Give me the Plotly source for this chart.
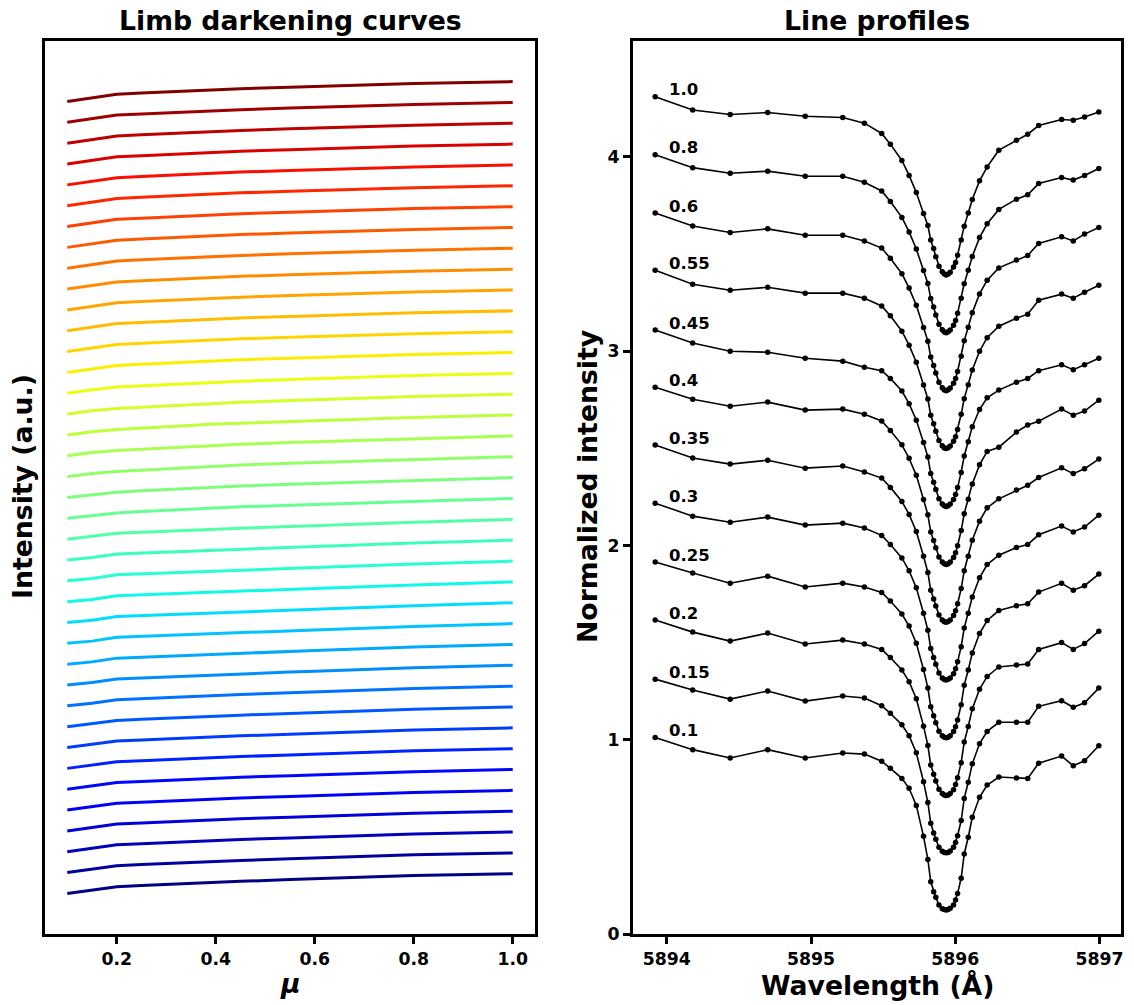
import plotly.graph_objects as go

# ---------------- data ----------------
# viewing angles (mu = cos theta)
mu = [0.1, 0.15, 0.2, 0.25, 0.3, 0.35, 0.4, 0.45, 0.55, 0.6, 0.8, 1.0]
mu_labels = ["0.1", "0.15", "0.2", "0.25", "0.3", "0.35", "0.4", "0.45", "0.55", "0.6", "0.8", "1.0"]

# limb darkening curves, one row per wavelength (bottom to top), intensity in a.u.
ld_intensity = [
    [0.522, 0.602, 0.682, 0.710, 0.737, 0.765, 0.792, 0.811, 0.853, 0.873, 0.952, 0.993],
    [0.522, 0.604, 0.686, 0.713, 0.740, 0.767, 0.794, 0.812, 0.852, 0.871, 0.948, 0.994],
    [0.522, 0.605, 0.688, 0.715, 0.742, 0.769, 0.796, 0.814, 0.853, 0.872, 0.947, 0.995],
    [0.522, 0.604, 0.686, 0.713, 0.740, 0.767, 0.794, 0.812, 0.851, 0.870, 0.945, 0.995],
    [0.522, 0.603, 0.684, 0.711, 0.738, 0.765, 0.792, 0.810, 0.849, 0.868, 0.944, 0.995],
    [0.522, 0.602, 0.682, 0.709, 0.736, 0.763, 0.790, 0.808, 0.847, 0.866, 0.943, 0.995],
    [0.522, 0.600, 0.679, 0.706, 0.733, 0.760, 0.787, 0.805, 0.845, 0.864, 0.942, 0.995],
    [0.522, 0.596, 0.676, 0.703, 0.730, 0.757, 0.784, 0.802, 0.842, 0.862, 0.941, 0.995],
    [0.522, 0.590, 0.673, 0.700, 0.727, 0.754, 0.780, 0.799, 0.840, 0.860, 0.940, 0.995],
    [0.522, 0.584, 0.670, 0.697, 0.723, 0.749, 0.775, 0.795, 0.837, 0.857, 0.938, 0.995],
    [0.522, 0.580, 0.668, 0.694, 0.719, 0.744, 0.769, 0.790, 0.833, 0.853, 0.935, 0.995],
    [0.522, 0.577, 0.667, 0.691, 0.715, 0.740, 0.764, 0.785, 0.828, 0.849, 0.932, 0.996],
    [0.522, 0.575, 0.666, 0.690, 0.714, 0.738, 0.761, 0.781, 0.823, 0.844, 0.928, 0.996],
    [0.522, 0.575, 0.666, 0.689, 0.713, 0.737, 0.759, 0.778, 0.819, 0.840, 0.924, 0.996],
    [0.522, 0.575, 0.666, 0.689, 0.713, 0.737, 0.759, 0.778, 0.819, 0.840, 0.924, 0.996],
    [0.522, 0.577, 0.666, 0.689, 0.713, 0.737, 0.759, 0.778, 0.819, 0.840, 0.924, 0.996],
    [0.522, 0.580, 0.666, 0.690, 0.714, 0.738, 0.761, 0.780, 0.822, 0.843, 0.927, 0.997],
    [0.522, 0.585, 0.662, 0.690, 0.716, 0.742, 0.766, 0.785, 0.826, 0.847, 0.930, 0.997],
    [0.522, 0.590, 0.650, 0.684, 0.716, 0.748, 0.779, 0.797, 0.834, 0.852, 0.932, 0.998],
    [0.522, 0.594, 0.648, 0.682, 0.714, 0.747, 0.780, 0.799, 0.840, 0.859, 0.937, 0.998],
    [0.522, 0.596, 0.646, 0.680, 0.713, 0.746, 0.780, 0.799, 0.842, 0.861, 0.940, 1.000],
    [0.522, 0.598, 0.646, 0.680, 0.713, 0.746, 0.780, 0.799, 0.842, 0.861, 0.940, 1.000],
    [0.522, 0.600, 0.650, 0.684, 0.717, 0.750, 0.783, 0.802, 0.845, 0.864, 0.942, 1.000],
    [0.522, 0.604, 0.658, 0.690, 0.722, 0.754, 0.787, 0.806, 0.848, 0.867, 0.944, 1.000],
    [0.522, 0.606, 0.670, 0.700, 0.730, 0.761, 0.792, 0.811, 0.852, 0.872, 0.946, 1.000],
    [0.522, 0.607, 0.690, 0.719, 0.748, 0.777, 0.806, 0.825, 0.864, 0.883, 0.951, 1.000],
    [0.522, 0.608, 0.692, 0.721, 0.750, 0.779, 0.808, 0.827, 0.865, 0.884, 0.951, 1.000],
    [0.522, 0.608, 0.694, 0.722, 0.751, 0.780, 0.809, 0.828, 0.866, 0.885, 0.952, 1.000],
    [0.522, 0.608, 0.694, 0.722, 0.751, 0.780, 0.809, 0.828, 0.866, 0.885, 0.952, 1.000],
    [0.522, 0.608, 0.694, 0.722, 0.751, 0.780, 0.809, 0.828, 0.866, 0.885, 0.952, 1.000],
    [0.522, 0.609, 0.695, 0.723, 0.752, 0.781, 0.810, 0.829, 0.867, 0.886, 0.952, 1.000],
    [0.522, 0.609, 0.695, 0.723, 0.752, 0.781, 0.810, 0.829, 0.867, 0.886, 0.952, 1.000],
    [0.522, 0.609, 0.696, 0.724, 0.753, 0.782, 0.811, 0.830, 0.868, 0.886, 0.953, 1.000],
    [0.522, 0.609, 0.696, 0.724, 0.753, 0.782, 0.811, 0.830, 0.868, 0.886, 0.953, 1.000],
    [0.522, 0.608, 0.694, 0.722, 0.751, 0.780, 0.809, 0.828, 0.866, 0.885, 0.952, 1.000],
    [0.522, 0.608, 0.694, 0.722, 0.751, 0.780, 0.809, 0.828, 0.866, 0.885, 0.952, 1.000],
    [0.522, 0.608, 0.694, 0.722, 0.751, 0.780, 0.809, 0.828, 0.866, 0.885, 0.952, 1.000],
    [0.522, 0.609, 0.696, 0.724, 0.752, 0.780, 0.808, 0.827, 0.865, 0.884, 0.952, 1.000],
    [0.522, 0.610, 0.697, 0.724, 0.752, 0.780, 0.808, 0.827, 0.865, 0.884, 0.952, 1.000],
]

# wavelength grid of the Na I D1 profiles (Angstrom)
wavelength = [
    5893.92, 5894.18, 5894.44, 5894.70, 5894.96, 5895.22, 5895.37, 5895.49, 5895.55, 5895.63,
    5895.68, 5895.73, 5895.78, 5895.81, 5895.83, 5895.85, 5895.865, 5895.887, 5895.91, 5895.924,
    5895.937, 5895.951, 5895.965, 5895.988, 5896.002, 5896.016, 5896.041, 5896.062, 5896.09, 5896.118,
    5896.168, 5896.221, 5896.302, 5896.424, 5896.502, 5896.578, 5896.737, 5896.818, 5896.896, 5896.995,
]

# normalized line profiles, one row per mu (same order as mu)
profiles = [
    [1.012, 0.949, 0.906, 0.949, 0.906, 0.932, 0.926, 0.889, 0.853, 0.801, 0.750, 0.662, 0.503, 0.384, 0.269, 0.218, 0.189, 0.149, 0.130, 0.126,
     0.124, 0.126, 0.132, 0.149, 0.175, 0.209, 0.287, 0.412, 0.498, 0.601, 0.704, 0.767, 0.808, 0.803, 0.801, 0.879, 0.916, 0.866, 0.892, 0.969],
    [1.012, 0.956, 0.909, 0.951, 0.899, 0.925, 0.915, 0.875, 0.836, 0.777, 0.721, 0.633, 0.484, 0.377, 0.270, 0.220, 0.188, 0.147, 0.126, 0.120,
     0.118, 0.120, 0.127, 0.146, 0.171, 0.206, 0.284, 0.398, 0.481, 0.577, 0.679, 0.743, 0.790, 0.790, 0.790, 0.872, 0.901, 0.867, 0.890, 0.966],
    [1.016, 0.954, 0.908, 0.949, 0.893, 0.913, 0.893, 0.865, 0.823, 0.759, 0.699, 0.611, 0.470, 0.371, 0.270, 0.222, 0.188, 0.145, 0.123, 0.116,
     0.113, 0.116, 0.123, 0.143, 0.169, 0.204, 0.282, 0.388, 0.468, 0.559, 0.660, 0.726, 0.775, 0.785, 0.790, 0.865, 0.900, 0.865, 0.895, 0.959],
    [1.015, 0.958, 0.906, 0.942, 0.886, 0.906, 0.886, 0.858, 0.814, 0.747, 0.685, 0.597, 0.461, 0.367, 0.270, 0.223, 0.188, 0.144, 0.121, 0.113,
     0.110, 0.113, 0.121, 0.142, 0.167, 0.202, 0.280, 0.381, 0.459, 0.547, 0.647, 0.714, 0.765, 0.790, 0.800, 0.860, 0.905, 0.870, 0.893, 0.953],
    [1.018, 0.951, 0.920, 0.946, 0.905, 0.915, 0.890, 0.852, 0.805, 0.736, 0.670, 0.582, 0.451, 0.364, 0.270, 0.224, 0.188, 0.143, 0.118, 0.110,
     0.107, 0.111, 0.118, 0.140, 0.165, 0.201, 0.279, 0.375, 0.451, 0.535, 0.634, 0.702, 0.750, 0.790, 0.805, 0.855, 0.900, 0.870, 0.895, 0.956],
    [1.017, 0.950, 0.919, 0.939, 0.898, 0.909, 0.878, 0.847, 0.799, 0.727, 0.660, 0.572, 0.445, 0.361, 0.270, 0.225, 0.188, 0.142, 0.117, 0.108,
     0.105, 0.109, 0.117, 0.139, 0.164, 0.200, 0.278, 0.370, 0.445, 0.527, 0.625, 0.694, 0.740, 0.785, 0.810, 0.850, 0.900, 0.870, 0.895, 0.945],
    [1.015, 0.953, 0.917, 0.938, 0.897, 0.902, 0.876, 0.841, 0.792, 0.718, 0.649, 0.561, 0.437, 0.358, 0.270, 0.226, 0.188, 0.141, 0.115, 0.106,
     0.102, 0.106, 0.115, 0.138, 0.162, 0.199, 0.277, 0.364, 0.438, 0.517, 0.615, 0.684, 0.706, 0.784, 0.820, 0.840, 0.902, 0.871, 0.892, 0.948],
    [1.009, 0.942, 0.900, 0.895, 0.864, 0.849, 0.818, 0.800, 0.760, 0.695, 0.630, 0.545, 0.430, 0.356, 0.270, 0.226, 0.188, 0.141, 0.114, 0.104,
     0.101, 0.105, 0.113, 0.137, 0.162, 0.198, 0.276, 0.361, 0.434, 0.511, 0.600, 0.660, 0.700, 0.740, 0.760, 0.800, 0.830, 0.805, 0.830, 0.864],
    [1.017, 0.945, 0.914, 0.929, 0.899, 0.899, 0.873, 0.833, 0.782, 0.703, 0.631, 0.543, 0.426, 0.354, 0.270, 0.227, 0.188, 0.140, 0.113, 0.102,
     0.099, 0.103, 0.112, 0.136, 0.160, 0.197, 0.275, 0.356, 0.427, 0.503, 0.600, 0.670, 0.729, 0.770, 0.791, 0.863, 0.894, 0.873, 0.904, 0.940],
    [1.011, 0.945, 0.911, 0.930, 0.897, 0.897, 0.868, 0.831, 0.778, 0.699, 0.625, 0.537, 0.422, 0.352, 0.270, 0.227, 0.188, 0.140, 0.112, 0.101,
     0.097, 0.102, 0.111, 0.135, 0.160, 0.196, 0.274, 0.354, 0.424, 0.498, 0.595, 0.666, 0.729, 0.769, 0.793, 0.855, 0.889, 0.868, 0.903, 0.937],
    [1.011, 0.945, 0.916, 0.927, 0.901, 0.901, 0.870, 0.825, 0.771, 0.689, 0.614, 0.526, 0.415, 0.349, 0.271, 0.228, 0.187, 0.139, 0.110, 0.099,
     0.095, 0.100, 0.109, 0.134, 0.158, 0.195, 0.273, 0.348, 0.417, 0.488, 0.585, 0.656, 0.730, 0.783, 0.805, 0.863, 0.894, 0.881, 0.905, 0.941],
    [1.010, 0.942, 0.919, 0.929, 0.910, 0.903, 0.874, 0.821, 0.766, 0.682, 0.605, 0.517, 0.409, 0.347, 0.272, 0.229, 0.186, 0.138, 0.109, 0.097,
     0.093, 0.098, 0.107, 0.133, 0.157, 0.194, 0.272, 0.344, 0.412, 0.481, 0.577, 0.649, 0.735, 0.786, 0.817, 0.862, 0.893, 0.889, 0.906, 0.932],
]

# vertical spacing between stacked curves
LD_STEP = 0.5
PROFILE_STEP = 0.3

FONT = "DejaVu Sans"
W, H = 1134, 1005


def jet(v):
    """matplotlib-style jet colormap, v in [0, 1]."""
    def interp(x, pts):
        for (x0, y0), (x1, y1) in zip(pts[:-1], pts[1:]):
            if x0 <= x <= x1:
                return y0 + (y1 - y0) * (x - x0) / (x1 - x0) if x1 > x0 else y1
        return pts[-1][1]
    r = interp(v, [(0, 0), (0.35, 0), (0.66, 1), (0.89, 1), (1, 0.5)])
    g = interp(v, [(0, 0), (0.125, 0), (0.375, 1), (0.64, 1), (0.91, 0), (1, 0)])
    b = interp(v, [(0, 0.5), (0.11, 1), (0.34, 1), (0.65, 0), (1, 0)])
    return "rgb(%d,%d,%d)" % (round(r * 255), round(g * 255), round(b * 255))


fig = go.Figure()

# left panel: stacked limb darkening curves
n_ld = len(ld_intensity)
for i, row in enumerate(ld_intensity):
    fig.add_trace(go.Scatter(
        x=mu, y=[v + LD_STEP * i for v in row], mode="lines",
        line=dict(color=jet(i / (n_ld - 1)), width=3),
        xaxis="x", yaxis="y", showlegend=False, hoverinfo="skip"))

# right panel: stacked line profiles
label_annotations = []
for k, (row, lab) in enumerate(zip(profiles, mu_labels)):
    ys = [v + PROFILE_STEP * k for v in row]
    fig.add_trace(go.Scatter(
        x=wavelength, y=ys, mode="lines+markers",
        line=dict(color="black", width=1.6),
        marker=dict(color="black", size=5.5),
        xaxis="x2", yaxis="y2", showlegend=False, hoverinfo="skip"))
    label_annotations.append(dict(
        x=wavelength[0] + 0.085, y=ys[0] + 0.036, xref="x2", yref="y2",
        text=lab, showarrow=False, xanchor="left", yanchor="middle",
        font=dict(family=FONT, size=16.5, color="black", weight="bold")))

# data ranges with 5% padding
ld_all = [v + LD_STEP * i for i, row in enumerate(ld_intensity) for v in row]
ld_lo, ld_hi = min(ld_all), max(ld_all)
ld_pad = 0.05 * (ld_hi - ld_lo)
mu_pad = 0.05 * (max(mu) - min(mu))
wl_pad = 0.05 * (max(wavelength) - min(wavelength))

# axes box positions (pixels)
L1, R1, L2, R2, TOP, BOT = 45, 535, 633, 1121, 41, 934
dom_y = [1 - BOT / H, 1 - TOP / H]

tickfont = dict(family=FONT, size=17.3, color="black", weight="bold")
common = dict(showline=True, linecolor="black", linewidth=3, mirror=True,
              showgrid=False, zeroline=False, ticklen=7, automargin=False,
              tickwidth=2.5, tickcolor="black", tickfont=tickfont)

fig.update_layout(
    width=W, height=H, margin=dict(l=0, r=0, t=0, b=0, autoexpand=False),
    font=dict(family=FONT, color="black", weight="bold"),
    paper_bgcolor="white", plot_bgcolor="white",
    xaxis=dict(domain=[L1 / W, R1 / W], anchor="y", ticks="outside",
               range=[min(mu) - mu_pad, max(mu) + mu_pad],
               tickvals=[0.2, 0.4, 0.6, 0.8, 1.0], ticktext=["0.2", "0.4", "0.6", "0.8", "1.0"],
               **common),
    yaxis=dict(domain=dom_y, anchor="x", range=[ld_lo - ld_pad, ld_hi + ld_pad],
               showticklabels=False, ticks="", **common),
    xaxis2=dict(domain=[L2 / W, R2 / W], anchor="y2", ticks="outside",
                range=[min(wavelength) - wl_pad, max(wavelength) + wl_pad],
                tickvals=[5894, 5895, 5896, 5897], ticktext=["5894", "5895", "5896", "5897"],
                **common),
    yaxis2=dict(domain=dom_y, anchor="x2", range=[0, 4.597], ticks="outside",
                tickvals=[0, 1, 2, 3, 4], ticktext=["0", "1", "2", "3", "4"],
                **common),
)

title_font = dict(family=FONT, size=26.7, color="black", weight="bold")
annotations = [
    dict(x=(L1 + R1) / 2 / W, y=1 - 21 / H, text="Limb darkening curves", font=title_font),
    dict(x=(L2 + R2) / 2 / W, y=1 - 21 / H, text="Line profiles", font=title_font),
    dict(x=(L1 + R1) / 2 / W, y=1 - 983 / H, text="<i>μ</i>", font=title_font),
    dict(x=(L2 + R2) / 2 / W, y=1 - 985 / H, text="Wavelength (Å)", font=title_font),
    dict(x=22 / W, y=1 - 487 / H, text="Intensity (a.u.)", font=title_font, textangle=-90),
    dict(x=587 / W, y=1 - 487 / H, text="Normalized intensity", font=title_font, textangle=-90),
]
for a in annotations:
    a.update(xref="paper", yref="paper", showarrow=False, xanchor="center", yanchor="middle")

fig.update_layout(annotations=annotations + label_annotations)

fig.write_html("out.html")
